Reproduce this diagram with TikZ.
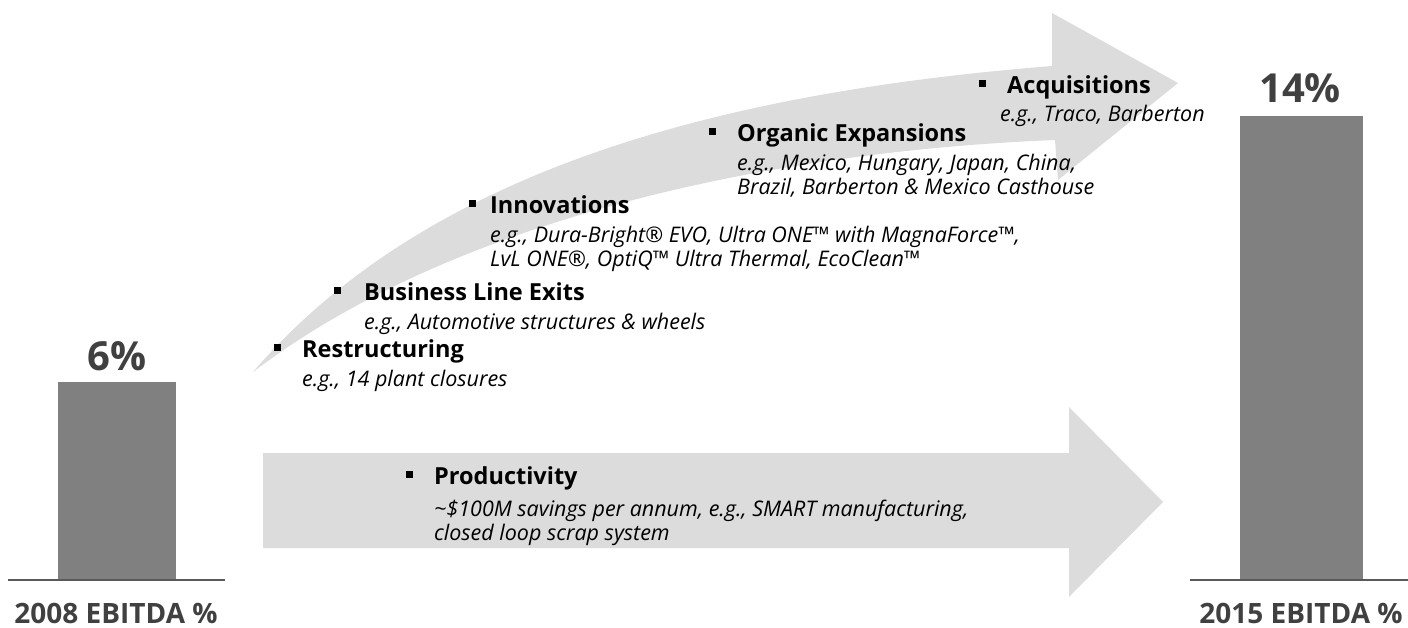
\documentclass[tikz,border=0pt]{standalone}
\usepackage{fontspec}
\setmainfont{Open Sans}
\usepackage{xcolor}
\usetikzlibrary{positioning}
\definecolor{EB_ARROW}{HTML}{DCDCDC}
\definecolor{EB_BAR}{HTML}{808080}
\definecolor{EB_DARK}{HTML}{404040}
\definecolor{EB_AXIS}{HTML}{595959}
\newcommand{\itemhead}[1]{{\fontsize{23.5}{24}\selectfont\bfseries\upshape #1}}
\tikzset{
  item/.style={
    anchor=north west, inner sep=0pt,
    align=left, text=black,
    font=\fontsize{21.5}{23.5}\selectfont\itshape},
  bullet/.style={
    rectangle, fill=black, inner sep=0pt,
    minimum size=7pt},
  pct/.style={
    inner sep=0pt, text=EB_DARK,
    font=\fontsize{40}{44}\selectfont\bfseries},
  yearlbl/.style={
    inner sep=0pt, text=EB_DARK,
    font=\fontsize{28}{30}\selectfont\bfseries},
  axis/.style={draw=EB_AXIS, line width=1.3pt},
}

\begin{document}
\begin{tikzpicture}[x=1pt, y=-1pt]
  \useasboundingbox (0,0) rectangle (1408,628);

  % big arrows behind the text
  \fill[EB_ARROW] (263,453) -- (1069,453) -- (1069,407) -- (1163,502)
    -- (1069,597) -- (1069,548) -- (263,548) -- cycle;
  \fill[EB_ARROW] (253,372) .. controls (420,178) and (700,94) .. (1052,66)
    -- (1052,13) -- (1178,83) -- (1058,180) -- (1055,140)
    .. controls (760,152) and (450,222) .. (253,372) -- cycle;

  % the two bars
  \fill[EB_BAR] (58,382) rectangle (176,580);
  \draw[axis] (8,580) -- (225,580);
  \fill[EB_BAR] (1240,116) rectangle (1363,580);
  \draw[axis] (1190,580) -- (1408,580);

  \node[pct] (p08) at (117,356) {6\%};
  \node[pct] (p15) at (1300,88) {14\%};
  \node[yearlbl] (y08) at (116,613) {2008 EBITDA \%};
  \node[yearlbl] (y15) at (1301,613) {2015 EBITDA \%};

  % levers
  \node[item] (restr) at (302,339)
    {\itemhead{Restructuring}\\[6pt] e.g., 14 plant closures};
  \node[bullet, below left=5pt and 21pt of restr.north west] (b1) {};

  \node[item] (exits) at (364,282)
    {\itemhead{Business Line Exits}\\[6pt] e.g., Automotive structures \& wheels};
  \node[bullet, below left=5pt and 23pt of exits.north west] (b2) {};

  \node[item] (innov) at (490,195)
    {\itemhead{Innovations}\\[6pt]
     e.g., Dura-Bright® EVO, Ultra ONE™ with MagnaForce™,\\
     LvL ONE®, OptiQ™ Ultra Thermal, EcoClean™};
  \node[bullet, below left=5pt and 14pt of innov.north west] (b3) {};

  \node[item] (organic) at (737,123)
    {\itemhead{Organic Expansions}\\[6pt]
     e.g., Mexico, Hungary, Japan, China,\\
     Brazil, Barberton \& Mexico Casthouse};
  \node[bullet, below left=5pt and 21pt of organic.north west] (b4) {};

  \node[item] (acq) at (1000,75)
    {\hspace*{7pt}\itemhead{Acquisitions}\\[5pt] e.g., Traco, Barberton};
  \node[bullet, below left=5pt and 14pt of acq.north west] (b5) {};

  \node[item] (prod) at (434,466)
    {\itemhead{Productivity}\\[9pt]
     \textasciitilde\$100M savings per annum, e.g., SMART manufacturing,\\
     closed loop scrap system};
  \node[bullet, below left=5pt and 21pt of prod.north west] (b6) {};

\end{tikzpicture}
\end{document}
